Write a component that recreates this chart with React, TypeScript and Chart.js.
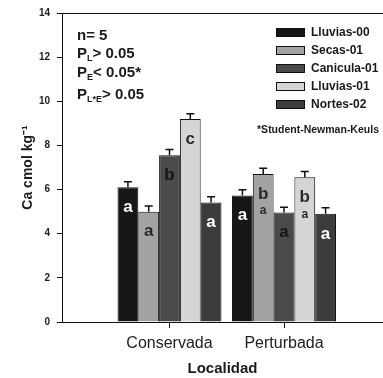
import React, { useEffect, useRef } from "react";
import { Chart, registerables } from "chart.js";

Chart.register(...registerables);

const FONT = "'Liberation Sans', Arial, sans-serif";

const categories = ["Conservada", "Perturbada"];
const seriesNames = ["Lluvias-00", "Secas-01", "Canicula-01", "Lluvias-01", "Nortes-02"];
const lluvias00 = [6.1, 5.73];
const secas01 = [5.0, 6.71];
const canicula01 = [7.56, 4.96];
const lluvias01 = [9.2, 6.56];
const nortes02 = [5.41, 4.9];
const errLluvias00 = [0.26, 0.26];
const errSecas01 = [0.26, 0.26];
const errCanicula01 = [0.25, 0.24];
const errLluvias01 = [0.24, 0.26];
const errNortes02 = [0.27, 0.28];
const lettersLluvias00 = [["a"], ["a"]];
const lettersSecas01 = [["a"], ["b", "a"]];
const lettersCanicula01 = [["b"], ["a"]];
const lettersLluvias01 = [["c"], ["b", "a"]];
const lettersNortes02 = [["a"], ["a"]];
const fillColors = ["#161616", "#a3a3a3", "#4a4a4a", "#d5d5d5", "#3c3c3c"];
const letterColors = ["#ffffff", "#2a2a2a", "#151515", "#2a2a2a", "#ffffff"];
const yTickValues = [0, 2, 4, 6, 8, 10, 12, 14];
const statMain = ["n= 5", "P", "P", "P"];
const statSub = ["", "L", "E", "L*E"];
const statRest = ["", "> 0.05", "< 0.05*", "> 0.05"];
const footnote = "*Student-Newman-Keuls";
const yTitle = "Ca cmol kg\u207B\u00B9";
const xTitle = "Localidad";

const seriesValues = [lluvias00, secas01, canicula01, lluvias01, nortes02];
const seriesErrors = [errLluvias00, errSecas01, errCanicula01, errLluvias01, errNortes02];
const seriesLetters = [lettersLluvias00, lettersSecas01, lettersCanicula01, lettersLluvias01, lettersNortes02];

const overlayPlugin = {
  id: "overlay",
  afterDatasetsDraw(chart: any) {
    const ctx = chart.ctx;
    const yScale = chart.scales.y;
    ctx.save();
    chart.data.datasets.forEach((ds: any, di: number) => {
      const meta = chart.getDatasetMeta(di);
      meta.data.forEach((bar: any, i: number) => {
        const v = seriesValues[di][i];
        const e = seriesErrors[di][i];
        const yTop = yScale.getPixelForValue(v);
        const yCap = yScale.getPixelForValue(v + e);
        ctx.strokeStyle = "#111";
        ctx.lineWidth = 1.5;
        ctx.beginPath();
        ctx.moveTo(bar.x, yTop);
        ctx.lineTo(bar.x, yCap);
        ctx.moveTo(bar.x - 4, yCap);
        ctx.lineTo(bar.x + 4, yCap);
        ctx.stroke();
        const letters = seriesLetters[di][i];
        ctx.fillStyle = letterColors[di];
        ctx.textAlign = "center";
        ctx.textBaseline = "middle";
        letters.forEach((l: string, k: number) => {
          const size = k === 0 ? 17 : 12;
          ctx.font = `bold ${size}px ${FONT}`;
          ctx.fillText(l, bar.x, yTop + 20 + k * 17);
        });
      });
    });
    ctx.restore();
  },
  afterDraw(chart: any) {
    const ctx = chart.ctx;
    const area = chart.chartArea;
    ctx.save();
    ctx.strokeStyle = "#111";
    ctx.lineWidth = 1;
    ctx.beginPath();
    ctx.moveTo(area.left, area.top + 0.5);
    ctx.lineTo(area.right, area.top + 0.5);
    ctx.stroke();

    ctx.fillStyle = "#1a1a1a";
    ctx.textBaseline = "middle";
    ctx.textAlign = "left";
    const rowY = [36, 54, 73, 95];
    statMain.forEach((m, i) => {
      let x = area.left + 15;
      const y = rowY[i];
      ctx.font = `bold 15px ${FONT}`;
      ctx.fillText(m, x, y);
      x += ctx.measureText(m).width;
      if (statSub[i]) {
        ctx.font = `bold 9px ${FONT}`;
        ctx.fillText(statSub[i], x, y + 5);
        x += ctx.measureText(statSub[i]).width;
      }
      if (statRest[i]) {
        ctx.font = `bold 15px ${FONT}`;
        ctx.fillText(statRest[i], x, y);
      }
    });

    const boxX = 276;
    chart.data.datasets.forEach((ds: any, di: number) => {
      const y = 32 + di * 18;
      ctx.fillStyle = ds.backgroundColor;
      ctx.fillRect(boxX, y - 4, 29, 9);
      ctx.strokeStyle = "#111";
      ctx.lineWidth = 1;
      ctx.strokeRect(boxX + 0.5, y - 3.5, 28, 8);
      ctx.fillStyle = "#1a1a1a";
      ctx.font = `bold 12px ${FONT}`;
      ctx.textAlign = "left";
      ctx.fillText(ds.label, 311, y + 1);
    });
    ctx.font = `bold 10.5px ${FONT}`;
    ctx.textAlign = "center";
    ctx.fillText(footnote, 318, 130);
    ctx.restore();
  },
};

export default function App() {
  const canvasRef = useRef<HTMLCanvasElement | null>(null);

  useEffect(() => {
    const canvas = canvasRef.current;
    if (!canvas) return;
    const chart = new Chart(canvas, {
      type: "bar",
      data: {
        datasets: seriesNames.map((name, di) => ({
          label: name,
          data: seriesValues[di].map((v, i) => ({ x: i + 1, y: v })),
          backgroundColor: fillColors[di],
          borderColor: "#111",
          borderWidth: 1,
          barPercentage: 1,
          categoryPercentage: 0.908,
        })),
      },
      options: {
        animation: false,
        responsive: false,
        devicePixelRatio: 1,
        layout: { padding: { top: 13, right: 0, left: 0, bottom: 0 } },
        plugins: { legend: { display: false }, tooltip: { enabled: false } },
        scales: {
          x: {
            type: "linear",
            offset: false,
            min: 0.0611,
            max: 2.8646,
            afterBuildTicks: (scale: any) => {
              scale.ticks = categories.map((_, i) => ({ value: i + 1 }));
            },
            afterFit: (scale: any) => {
              scale.height = 56;
            },
            grid: {
              drawOnChartArea: false,
              drawTicks: true,
              tickLength: 6,
              color: "#111",
              offset: false,
            },
            border: { display: true, color: "#111", width: 1 },
            ticks: {
              callback: (v: any) => categories[Math.round(v) - 1] ?? "",
              font: { family: FONT, size: 16 },
              color: "#222",
              padding: 6,
              maxRotation: 0,
              autoSkip: false,
            },
            title: {
              display: true,
              text: xTitle,
              font: { family: FONT, size: 15, weight: "bold" },
              color: "#1a1a1a",
              padding: { top: 0, bottom: 0 },
            },
          },
          y: {
            type: "linear",
            min: 0,
            max: 14,
            afterBuildTicks: (scale: any) => {
              scale.ticks = yTickValues.map((v) => ({ value: v }));
            },
            afterFit: (scale: any) => {
              scale.width = 62;
            },
            grid: {
              drawOnChartArea: false,
              drawTicks: true,
              tickLength: 5,
              color: "#111",
            },
            border: { display: true, color: "#111", width: 1 },
            ticks: {
              font: { family: FONT, size: 10, weight: "bold" },
              color: "#222",
              padding: 7,
            },
            title: {
              display: true,
              text: yTitle,
              font: { family: FONT, size: 14, weight: "bold" },
              color: "#1a1a1a",
              padding: { top: 20, bottom: 0 },
            },
          },
        },
      },
      plugins: [overlayPlugin],
    } as any);
    return () => chart.destroy();
  }, []);

  return (
    <div style={{ position: "fixed", left: 0, top: 0, width: 383, height: 378, background: "#fff" }}>
      <canvas ref={canvasRef} width={383} height={378} style={{ display: "block" }} />
    </div>
  );
}
